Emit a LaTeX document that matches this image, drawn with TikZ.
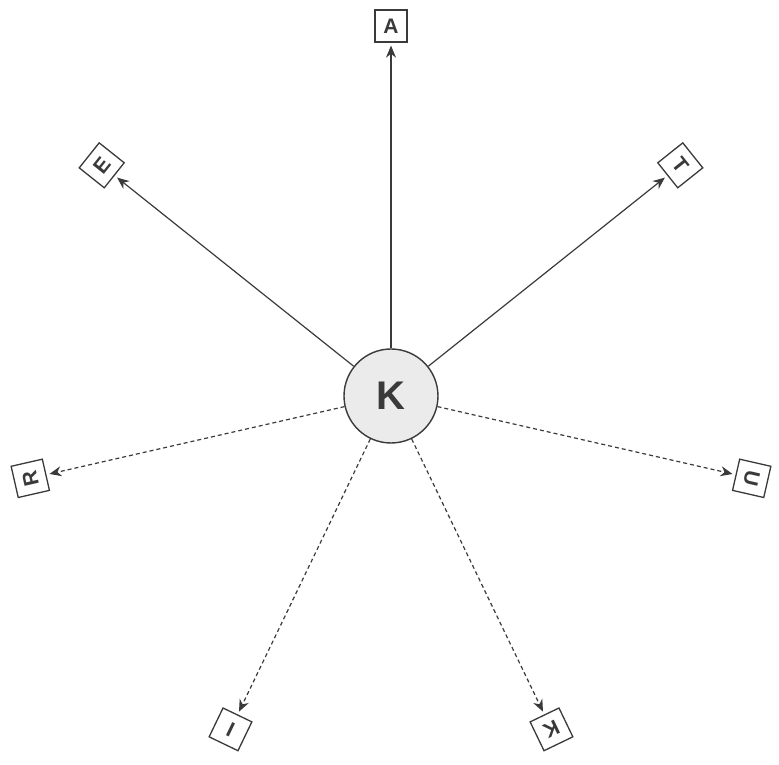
\documentclass[tikz,border=0pt]{standalone}
\usepackage{fontspec}
\setmainfont{Liberation Sans}
\usetikzlibrary{arrows.meta}
\definecolor{ink}{HTML}{3A3A3A}
\begin{document}
\begin{tikzpicture}[x=1pt,y=1pt,
  hub/.style={circle,draw=ink,line width=1.4pt,fill=black!8,minimum size=94pt,inner sep=0pt,
    font=\fontsize{40}{40}\selectfont\bfseries,text=ink},
  lbox/.style={draw=ink,line width=1.3pt,fill=white,minimum size=32pt,inner sep=0pt,
    font=\fontsize{21}{21}\selectfont\bfseries,text=ink},
  link/.style={draw=ink,line width=1.2pt,-{Stealth[length=12pt,width=10pt]},shorten >=3pt},
  dlink/.style={link,dash pattern=on 4pt off 3pt}]
\useasboundingbox (-391,-369) rectangle (388,396);
\node[hub] (k) at (0,0) {K};
\node[lbox,rotate=0] (a) at (90:370) {A};
\node[lbox,rotate=-51.43] (t) at (38.57:370) {T};
\node[lbox,rotate=-102.86] (u) at (-12.86:370) {U};
\node[lbox,rotate=-154.29] (kk) at (-64.29:370) {K};
\node[lbox,rotate=154.29] (i) at (244.29:370) {I};
\node[lbox,rotate=102.86] (r) at (192.86:370) {R};
\node[lbox,rotate=51.43] (e) at (141.43:370) {E};
\draw[link] (k) -- (a);
\draw[link] (k) -- (t);
\draw[link] (k) -- (e);
\draw[dlink] (k) -- (u);
\draw[dlink] (k) -- (kk);
\draw[dlink] (k) -- (i);
\draw[dlink] (k) -- (r);
\end{tikzpicture}
\end{document}
